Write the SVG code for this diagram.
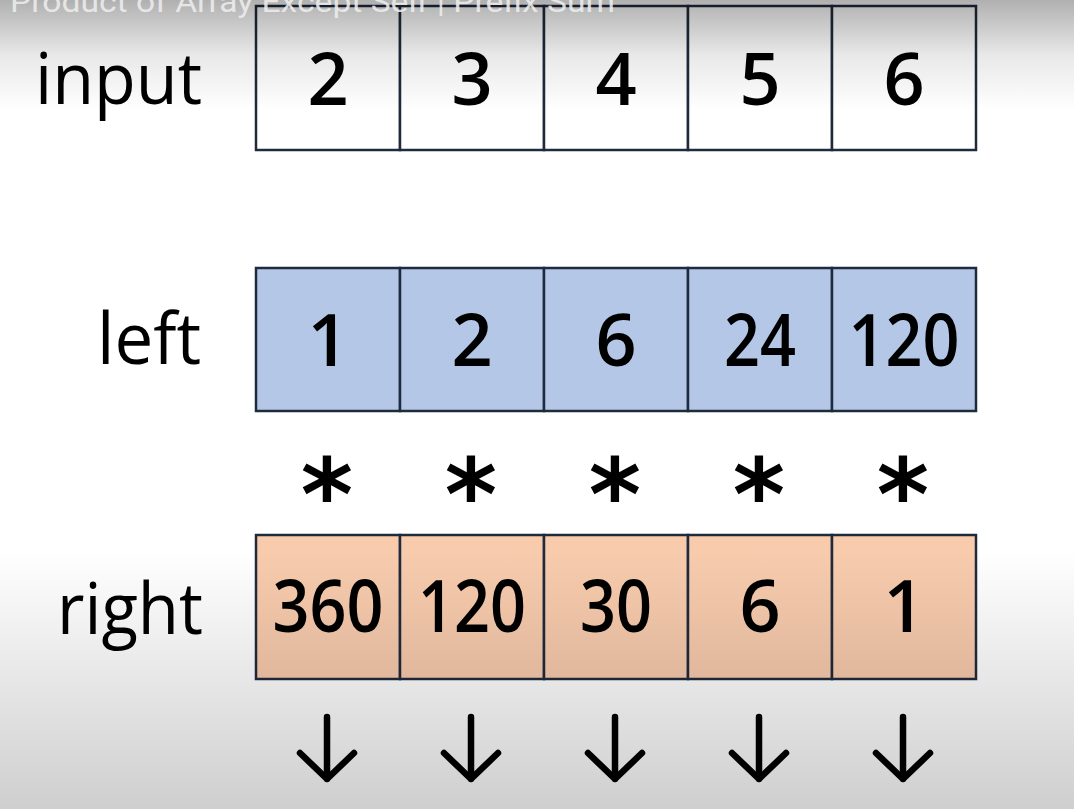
<svg xmlns="http://www.w3.org/2000/svg" width="1074" height="809" viewBox="0 0 1074 809">
  <defs>
    <linearGradient id="shadeTop" x1="0" y1="0" x2="0" y2="1">
      <stop offset="0" stop-color="#000" stop-opacity="0.31"/>
      <stop offset="0.5" stop-color="#000" stop-opacity="0.09"/>
      <stop offset="1" stop-color="#000" stop-opacity="0"/>
    </linearGradient>
    <linearGradient id="shadeBottom" x1="0" y1="0" x2="0" y2="1">
      <stop offset="0" stop-color="#000" stop-opacity="0"/>
      <stop offset="1" stop-color="#000" stop-opacity="0.19"/>
    </linearGradient>
    <style>
      .cell { stroke: #1f2a3c; stroke-width: 2.5; }
      .in { fill: #ffffff; }
      .lf { fill: #b4c7e7; }
      .rt { fill: #f8cbad; }
      .num { font-family: "Open Sans", "Noto Sans", sans-serif; font-size: 72px; font-weight: 600; fill: #000; text-anchor: middle; }
      .lbl { font-family: "Open Sans", "Noto Sans", sans-serif; font-size: 72px; font-weight: 500; fill: #000; text-anchor: end; }
      .op { font-family: "DejaVu Sans", sans-serif; font-weight: bold; font-size: 100px; fill: #000; text-anchor: middle; }
      .arrow { fill: none; stroke: #000; stroke-width: 6.5; stroke-linecap: round; stroke-linejoin: round; }
    </style>
  </defs>
  <rect x="0" y="0" width="1074" height="809" fill="#ffffff"/>

  <g id="label-input"><text class="lbl" x="202" y="104" textLength="167" lengthAdjust="spacingAndGlyphs">input</text></g>
  <g id="label-left"><text class="lbl" x="201" y="364" textLength="104" lengthAdjust="spacingAndGlyphs">left</text></g>
  <g id="label-right"><text class="lbl" x="203" y="634" textLength="146" lengthAdjust="spacingAndGlyphs">right</text></g>

  <g id="input-row">
    <g id="in0"><rect class="cell in" x="256" y="6" width="144" height="144"/><text class="num" x="328" y="105">2</text></g>
    <g id="in1"><rect class="cell in" x="400" y="6" width="144" height="144"/><text class="num" x="472" y="105">3</text></g>
    <g id="in2"><rect class="cell in" x="544" y="6" width="144" height="144"/><text class="num" x="616" y="105">4</text></g>
    <g id="in3"><rect class="cell in" x="688" y="6" width="144" height="144"/><text class="num" x="760" y="105">5</text></g>
    <g id="in4"><rect class="cell in" x="832" y="6" width="144" height="144"/><text class="num" x="904" y="105">6</text></g>
  </g>

  <g id="left-row">
    <g id="lf0"><rect class="cell lf" x="256" y="268" width="144" height="143"/><text class="num" x="328" y="366">1</text></g>
    <g id="lf1"><rect class="cell lf" x="400" y="268" width="144" height="143"/><text class="num" x="472" y="366">2</text></g>
    <g id="lf2"><rect class="cell lf" x="544" y="268" width="144" height="143"/><text class="num" x="616" y="366">6</text></g>
    <g id="lf3"><rect class="cell lf" x="688" y="268" width="144" height="143"/><text class="num" x="760" y="366" textLength="72" lengthAdjust="spacingAndGlyphs">24</text></g>
    <g id="lf4"><rect class="cell lf" x="832" y="268" width="144" height="143"/><text class="num" x="904" y="366" textLength="111" lengthAdjust="spacingAndGlyphs">120</text></g>
  </g>

  <g id="operators">
    <text class="op" x="327" y="530">*</text>
    <text class="op" x="471" y="530">*</text>
    <text class="op" x="615" y="530">*</text>
    <text class="op" x="759" y="530">*</text>
    <text class="op" x="903" y="530">*</text>
  </g>

  <g id="right-row">
    <g id="rt0"><rect class="cell rt" x="256" y="535" width="144" height="144"/><text class="num" x="328" y="632" textLength="111" lengthAdjust="spacingAndGlyphs">360</text></g>
    <g id="rt1"><rect class="cell rt" x="400" y="535" width="144" height="144"/><text class="num" x="472" y="632" textLength="108" lengthAdjust="spacingAndGlyphs">120</text></g>
    <g id="rt2"><rect class="cell rt" x="544" y="535" width="144" height="144"/><text class="num" x="616" y="632" textLength="72" lengthAdjust="spacingAndGlyphs">30</text></g>
    <g id="rt3"><rect class="cell rt" x="688" y="535" width="144" height="144"/><text class="num" x="760" y="632">6</text></g>
    <g id="rt4"><rect class="cell rt" x="832" y="535" width="144" height="144"/><text class="num" x="904" y="632">1</text></g>
  </g>

  <g id="connectors">
    <path class="arrow" d="M327 717 V779 M300 753 L327 779 L354 753"/>
    <path class="arrow" d="M471 717 V779 M444 753 L471 779 L498 753"/>
    <path class="arrow" d="M615 717 V779 M588 753 L615 779 L642 753"/>
    <path class="arrow" d="M759 717 V779 M732 753 L759 779 L786 753"/>
    <path class="arrow" d="M903 717 V779 M876 753 L903 779 L930 753"/>
  </g>

  <rect x="0" y="0" width="1074" height="110" fill="url(#shadeTop)"/>
  <rect x="0" y="550" width="1074" height="259" fill="url(#shadeBottom)"/>

  <g id="title">
    <text x="10" y="12" font-family="Roboto, sans-serif" font-size="30" fill="#ededed" fill-opacity="0.9" textLength="605" lengthAdjust="spacingAndGlyphs">Product of Array Except Self | Prefix Sum</text>
  </g>
</svg>
